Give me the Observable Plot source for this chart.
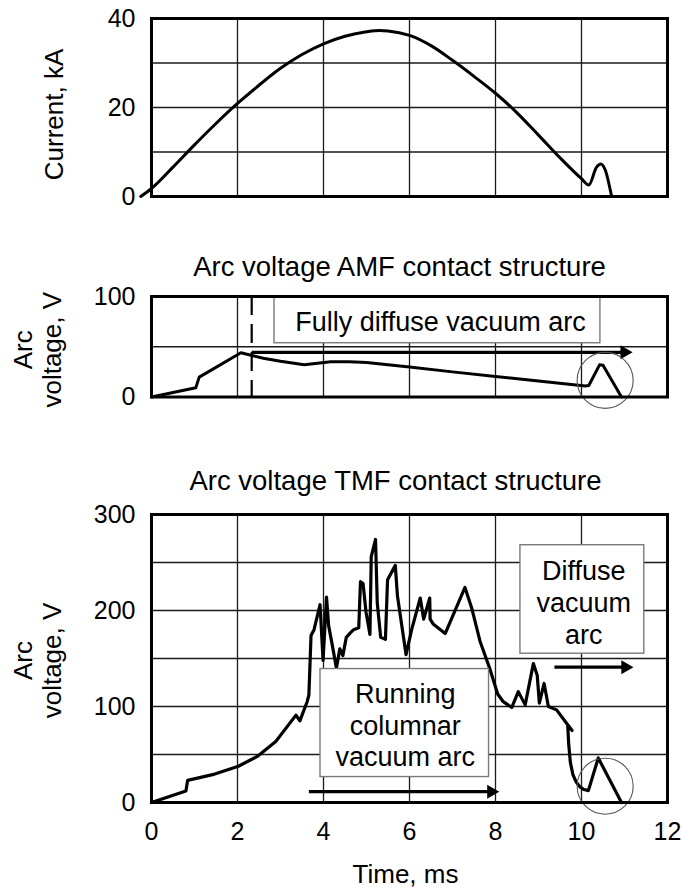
<!DOCTYPE html>
<html>
<head>
<meta charset="utf-8">
<script src="https://cdn.jsdelivr.net/npm/d3@7"></script>
<script src="https://cdn.jsdelivr.net/npm/@observablehq/plot@0.6"></script>
<style>
  html, body { margin: 0; padding: 0; background: #fff; }
  #root { position: relative; width: 682px; height: 889px; overflow: hidden; }
  .panel { position: absolute; left: 0; }
</style>
</head>
<body>
<div id="root"></div>
<script>
// ---------- data ----------
const xTicks = [0, 2, 4, 6, 8, 10, 12];

const currentTicks = [0, 20, 40];
const currentGrid = [10, 20, 30];
const currentTime = [-0.25, 0, 0.5, 1, 1.5, 2, 2.5, 3, 3.5, 4, 4.5, 5, 5.3, 5.5, 6, 6.5, 7, 7.5, 8, 8.5, 9, 9.5, 10, 10.17, 10.35, 10.45, 10.55, 10.7];
const currentKA   = [0, 1.8, 6.6, 11.6, 16.4, 20.9, 25.0, 28.8, 31.9, 34.3, 36.0, 37.0, 37.3, 37.2, 36.2, 33.9, 30.6, 27.0, 23.2, 18.8, 13.8, 8.7, 4.0, 2.6, 6.6, 7.3, 6.0, 0];

const amfTitle = "Arc voltage AMF contact structure";
const amfTicks = [0, 100];
const amfGrid = [50];
const amfTime = [0, 1.03, 1.11, 2.08, 2.6, 3.0, 3.55, 4.17, 4.6, 5.0, 6.0, 7.0, 8.0, 9.0, 10.09, 10.17, 10.42, 10.5, 10.93];
const amfVolt = [0, 9.2, 19.8, 44, 38.5, 35.5, 32, 35, 35, 34.3, 29.8, 25, 20.5, 16, 11, 11.5, 32, 31.5, 0];
const amfMarkerTime = 2.33;
const amfBox = {x1: 2.86, x2: 10.44, y1: 53.5, y2: 100};
const amfBoxText = "Fully diffuse vacuum arc";
const amfBoxTextPos = {x: 6.72, y: 74};
const amfArrow = {x1: 2.33, x2: 11.0, y: 44.5};
const amfCircle = {x: 10.55, y: 16.5};

const tmfTitle = "Arc voltage TMF contact structure";
const tmfTicks = [0, 100, 200, 300];
const tmfGrid = [50, 100, 150, 200, 250];
const tmfTime = [0, 0.8, 0.84, 1.42, 2.02, 2.46, 2.89, 3.36, 3.45, 3.62, 3.66, 3.71, 3.78, 3.92, 3.99, 4.07, 4.12, 4.2, 4.3, 4.38, 4.45, 4.53, 4.63, 4.7, 4.82, 4.86, 4.92, 4.99, 5.08, 5.11, 5.21, 5.25, 5.33, 5.44, 5.49, 5.67, 5.72, 5.92, 6.05, 6.25, 6.33, 6.47, 6.48, 6.55, 6.83, 7.29, 7.45, 7.64, 7.87, 8.05, 8.18, 8.38, 8.53, 8.69, 8.88, 8.97, 9.02, 9.13, 9.23, 9.42, 9.78, 9.68, 9.70, 9.74, 9.80, 9.88, 9.97, 10.06, 10.16, 10.39, 10.93];
const tmfVolt = [0, 12, 23, 29, 37.8, 48, 63.6, 91, 85, 105, 112, 174, 180, 206, 148, 214, 184, 165, 140, 160, 153, 172, 177, 180, 182, 230, 228, 198, 175, 256, 274, 208, 172, 170, 232, 247, 215, 154, 180, 213, 191, 213, 191, 186, 176, 224, 202, 168, 139, 113, 105, 99, 115.5, 101.7, 144.7, 132.6, 103.4, 124, 100, 96.5, 75, 81, 62, 42, 29, 21, 16, 13.5, 12.4, 46.4, 0];
const tmfBoxRun = {x1: 3.93, x2: 7.85, y1: 26.5, y2: 139};
const tmfRunText = "Running\ncolumnar\nvacuum arc";
const tmfRunTextPos = {x: 5.9, y: 81};
const tmfBoxDiff = {x1: 8.58, x2: 11.46, y1: 155, y2: 268};
const tmfDiffText = "Diffuse\nvacuum\narc";
const tmfDiffTextPos = {x: 10.05, y: 209};
const tmfArrowRun = {x1: 3.66, x2: 7.9, y: 11.3};
const tmfArrowDiff = {x1: 9.37, x2: 11.02, y: 141};
const tmfCircle = {x: 10.55, y: 17};

const xLabel = "Time, ms";
const currentLabel = "Current, kA";
const voltLabel = "Arc\nvoltage, V";

// ---------- helpers ----------
const FONT = '"Liberation Sans", Arial, Helvetica, sans-serif';
const rows = (xs, ys) => xs.map((x, i) => ({x, y: ys[i]}));

function arrow(a) {
  return [
    Plot.link([a], {x1: "x1", x2: "x2", y1: "y", y2: "y", stroke: "#000", strokeWidth: 3.2}),
    Plot.dot([a], {x: "x2", y: "y", symbol: "triangle", rotate: 90, r: 5.2, fill: "#000", stroke: "none"})
  ];
}

function box(b) {
  return Plot.rect([b], {x1: "x1", x2: "x2", y1: "y1", y2: "y2", fill: "#fff", stroke: "#7a7a7a", strokeWidth: 1.4});
}

function circle(c) {
  return Plot.dot([c], {x: "x", y: "y", r: 28, stroke: "#555", strokeWidth: 1.1, fill: "none"});
}

function panel({top, height, mt, mb, yDomain, yTicks, yGrid, marks, showX}) {
  const svg = Plot.plot({
    width: 682,
    height,
    marginLeft: 151,
    marginRight: 15,
    marginTop: mt,
    marginBottom: mb,
    style: {fontFamily: FONT, fontSize: "25px", color: "#000", background: "transparent", overflow: "visible"},
    x: {domain: [0, 12], axis: null},
    y: {domain: yDomain, axis: null},
    marks: [
      Plot.ruleX(xTicks.slice(1, -1), {stroke: "#1a1a1a", strokeWidth: 1.3}),
      Plot.ruleY(yGrid, {stroke: "#1a1a1a", strokeWidth: 1.3}),
      Plot.axisY(yTicks, {tickSize: 0, tickPadding: 16, fontSize: 25, label: null, tickFormat: d => String(d)}),
      ...(showX ? [Plot.axisX(xTicks, {tickSize: 0, tickPadding: 20, fontSize: 25, label: null, tickFormat: d => String(d)})] : []),
      ...marks,
      Plot.frame({stroke: "#000", strokeWidth: 3})
    ]
  });
  const div = document.createElement("div");
  div.className = "panel";
  div.style.top = top + "px";
  div.appendChild(svg);
  document.getElementById("root").appendChild(div);
}

// ---------- top: current ----------
panel({
  top: 0, height: 215, mt: 18, mb: 19,
  yDomain: [0, 40], yTicks: currentTicks, yGrid: currentGrid,
  marks: [
    Plot.line(rows(currentTime, currentKA), {x: "x", y: "y", stroke: "#000", strokeWidth: 3, curve: "monotone-x"}),
    Plot.text([currentLabel], {frameAnchor: "left", rotate: -90, dx: -97, dy: 7, fontSize: 26, textAnchor: "middle", lineAnchor: "middle"})
  ]
});

// ---------- middle: AMF ----------
panel({
  top: 240, height: 180, mt: 56, mb: 23.5,
  yDomain: [0, 100], yTicks: amfTicks, yGrid: amfGrid,
  marks: [
    box(amfBox),
    Plot.text([amfBoxText], {x: () => amfBoxTextPos.x, y: () => amfBoxTextPos.y, fontSize: 27}),
    Plot.ruleX([amfMarkerTime], {stroke: "#000", strokeWidth: 2.2, strokeDasharray: "19,9"}),
    Plot.line(rows(amfTime, amfVolt), {x: "x", y: "y", stroke: "#000", strokeWidth: 3}),
    ...arrow(amfArrow),
    circle(amfCircle),
    Plot.text([amfTitle], {frameAnchor: "top", dy: -29, dx: -10, fontSize: 27.5, lineAnchor: "middle"}),
    Plot.text([voltLabel], {frameAnchor: "left", rotate: -90, dx: -114, dy: 3, fontSize: 26, lineHeight: 1.12, textAnchor: "middle", lineAnchor: "middle"})
  ]
});

// ---------- bottom: TMF ----------
panel({
  top: 455, height: 434, mt: 59, mb: 87,
  yDomain: [0, 300], yTicks: tmfTicks, yGrid: tmfGrid, showX: true,
  marks: [
    Plot.line(rows(tmfTime, tmfVolt), {x: "x", y: "y", stroke: "#000", strokeWidth: 3.2, strokeLinejoin: "round"}),
    box(tmfBoxRun),
    box(tmfBoxDiff),
    Plot.text([tmfRunText], {x: () => tmfRunTextPos.x, y: () => tmfRunTextPos.y, fontSize: 27, lineHeight: 1.17}),
    Plot.text([tmfDiffText], {x: () => tmfDiffTextPos.x, y: () => tmfDiffTextPos.y, fontSize: 27, lineHeight: 1.17}),
    ...arrow(tmfArrowRun),
    ...arrow(tmfArrowDiff),
    circle(tmfCircle),
    Plot.text([tmfTitle], {frameAnchor: "top", dy: -33, dx: -14, fontSize: 27.5, lineAnchor: "middle"}),
    Plot.text([voltLabel], {frameAnchor: "left", rotate: -90, dx: -114, dy: 2, fontSize: 26, lineHeight: 1.12, textAnchor: "middle", lineAnchor: "middle"}),
    Plot.text([xLabel], {frameAnchor: "bottom", dy: 72, dx: -4, fontSize: 26, lineAnchor: "middle"})
  ]
});
</script>
</body>
</html>
